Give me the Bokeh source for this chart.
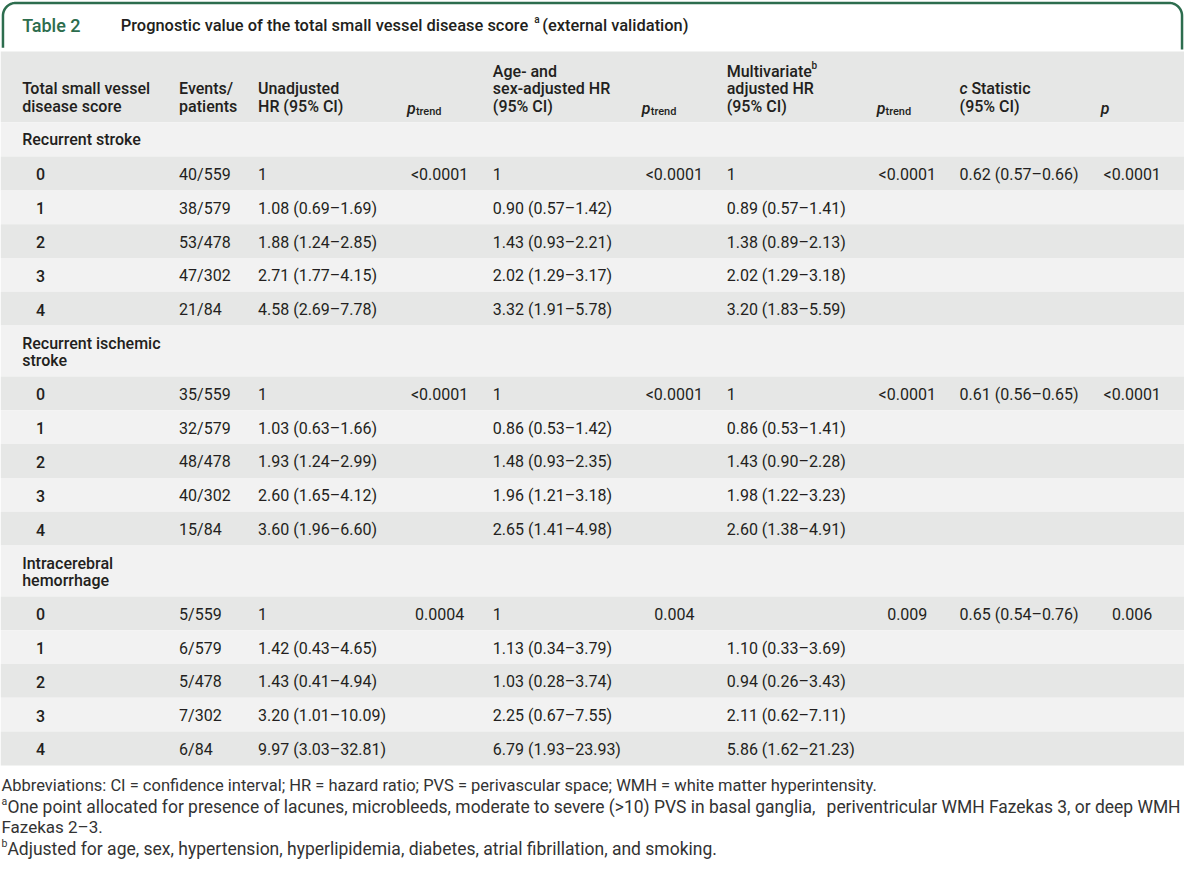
import numpy as np
from bokeh.plotting import figure
from bokeh.models import Range1d
from bokeh.embed import file_html
from bokeh.resources import INLINE
from bokeh.core.properties import value

# ---------------- data ----------------
table_label = "Table 2"
table_title = "Prognostic value of the total small vessel disease score"
table_title_tail = "(external validation)"

sections = [["Recurrent stroke"], ["Recurrent ischemic", "stroke"], ["Intracerebral", "hemorrhage"]]
scores = ["0", "1", "2", "3", "4"]

events = [
    ["40/559", "38/579", "53/478", "47/302", "21/84"],
    ["35/559", "32/579", "48/478", "40/302", "15/84"],
    ["5/559", "6/579", "5/478", "7/302", "6/84"],
]
unadjusted_hr = [
    ["1", "1.08 (0.69–1.69)", "1.88 (1.24–2.85)", "2.71 (1.77–4.15)", "4.58 (2.69–7.78)"],
    ["1", "1.03 (0.63–1.66)", "1.93 (1.24–2.99)", "2.60 (1.65–4.12)", "3.60 (1.96–6.60)"],
    ["1", "1.42 (0.43–4.65)", "1.43 (0.41–4.94)", "3.20 (1.01–10.09)", "9.97 (3.03–32.81)"],
]
age_sex_hr = [
    ["1", "0.90 (0.57–1.42)", "1.43 (0.93–2.21)", "2.02 (1.29–3.17)", "3.32 (1.91–5.78)"],
    ["1", "0.86 (0.53–1.42)", "1.48 (0.93–2.35)", "1.96 (1.21–3.18)", "2.65 (1.41–4.98)"],
    ["1", "1.13 (0.34–3.79)", "1.03 (0.28–3.74)", "2.25 (0.67–7.55)", "6.79 (1.93–23.93)"],
]
multivariate_hr = [
    ["1", "0.89 (0.57–1.41)", "1.38 (0.89–2.13)", "2.02 (1.29–3.18)", "3.20 (1.83–5.59)"],
    ["1", "0.86 (0.53–1.41)", "1.43 (0.90–2.28)", "1.98 (1.22–3.23)", "2.60 (1.38–4.91)"],
    ["", "1.10 (0.33–3.69)", "0.94 (0.26–3.43)", "2.11 (0.62–7.11)", "5.86 (1.62–21.23)"],
]
p_trend_unadj = ["<0.0001", "<0.0001", "0.0004"]
p_trend_age = ["<0.0001", "<0.0001", "0.004"]
p_trend_multi = ["<0.0001", "<0.0001", "0.009"]
c_statistic = ["0.62 (0.57–0.66)", "0.61 (0.56–0.65)", "0.65 (0.54–0.76)"]
p_cstat = ["<0.0001", "<0.0001", "0.006"]

# footnote lines: (superscript, left part, right part of a justified line)
footnotes = [
    ("", "Abbreviations: CI = confidence interval; HR = hazard ratio; PVS = perivascular space; WMH = white matter hyperintensity.", ""),
    ("a", "One point allocated for presence of lacunes, microbleeds, moderate to severe (>10) PVS in basal ganglia,", "periventricular WMH Fazekas 3, or deep WMH"),
    ("", "Fazekas 2–3.", ""),
    ("b", "Adjusted for age, sex, hypertension, hyperlipidemia, diabetes, atrial fibrillation, and smoking.", ""),
]

# ---------------- layout / style ----------------
FONT = value("Roboto")
BFONT = value("Roboto Medium")
TXT = "#231f20"
GREEN = "#2d6d4e"
DARK = "#e6e7e6"
LIGHT = "#f2f2f2"
FS = "16px"

W, H = 1184, 867
p = figure(width=W, height=H, x_range=Range1d(0, 1200), y_range=Range1d(883, 0),
           output_backend="svg", toolbar_location=None, min_border=0,
           x_axis_location=None, y_axis_location=None)
p.grid.grid_line_color = None
p.outline_line_color = None
p.background_fill_color = "white"
p.border_fill_color = "white"

# title box (rounded top corners)
r = 13
L, R, T = 2.5, 1197.5, 2.5
a1 = np.linspace(np.pi, 1.5 * np.pi, 20)
a2 = np.linspace(1.5 * np.pi, 2 * np.pi, 20)
bx = np.concatenate([[L], L + r + r * np.cos(a1), R - r + r * np.cos(a2), [R]])
by = np.concatenate([[48], T + r + r * np.sin(a1), T + r + r * np.sin(a2), [50]])
p.line(bx, by, line_color=GREEN, line_width=2.5)

p.text([22], [25], text=[table_label], text_font=BFONT, text_font_size="18px",
       text_color=GREEN, text_baseline="middle")
p.text([122], [25], text=[table_title], text_font=BFONT, text_font_size="16.4px",
       text_color=TXT, text_baseline="middle")
p.text([541], [19], text=["a"], text_font=BFONT, text_font_size="10px",
       text_color=TXT, text_baseline="middle")
p.text([549], [25], text=[table_title_tail], text_font=BFONT, text_font_size="16.4px",
       text_color=TXT, text_baseline="middle")

# bands
HEAD_TOP, HEAD_BOT = 52, 124
ROW_H = 34.4
band_t, band_b, band_c = [HEAD_TOP], [HEAD_BOT], [DARK]

col_x = dict(score=36, events=181, unadj=261, age=499, multi=736, cstat=972)
pcol_x = [445, 683, 919, 1147]

lx, ly, lt = [], [], []          # left aligned regular cells
cx, cy, ct = [], [], []          # centred p-values
bxs, bys, bts = [], [], []       # medium-weight labels

y = HEAD_BOT
for s, sec in enumerate(sections):
    sec_h = 35 if len(sec) == 1 else 52
    band_t.append(y); band_b.append(y + sec_h); band_c.append(LIGHT)
    for k, line in enumerate(sec):
        bxs.append(22); bys.append(y + 18 + 17.5 * k); bts.append(line)
    y += sec_h
    for i in range(len(scores)):
        yt, yb = y + ROW_H * i, y + ROW_H * (i + 1)
        band_t.append(yt); band_b.append(yb)
        band_c.append(DARK if i % 2 == 0 else LIGHT)
        yc = (yt + yb) / 2 + 1
        bxs.append(col_x["score"]); bys.append(yc); bts.append(scores[i])
        for key, arr in (("events", events), ("unadj", unadjusted_hr), ("age", age_sex_hr), ("multi", multivariate_hr)):
            lx.append(col_x[key]); ly.append(yc); lt.append(arr[s][i])
        if i == 0:
            for j, arr in enumerate((p_trend_unadj, p_trend_age, p_trend_multi)):
                cx.append(pcol_x[j]); cy.append(yc); ct.append(arr[s])
            lx.append(col_x["cstat"]); ly.append(yc); lt.append(c_statistic[s])
            cx.append(pcol_x[3]); cy.append(yc); ct.append(p_cstat[s])
    y += ROW_H * len(scores)

n = len(band_t)
p.quad(left=[0] * n, right=[1200] * n, top=band_t, bottom=band_b, fill_color=band_c, line_color=None)

p.text(lx, ly, text=lt, text_font=FONT, text_font_size=FS, text_color=TXT,
       text_baseline="middle", text_align="left")
p.text(cx, cy, text=ct, text_font=FONT, text_font_size=FS, text_color=TXT,
       text_baseline="middle", text_align="center")
p.text(bxs, bys, text=bts, text_font=BFONT, text_font_size=FS, text_color=TXT,
       text_baseline="middle", text_align="left")

# header
hx, hy, ht = [], [], []
head_cols = [
    (22, ["Total small vessel", "disease score"]),
    (181, ["Events/", "patients"]),
    (261, ["Unadjusted", "HR (95% CI)"]),
    (499, ["Age- and", "sex-adjusted HR", "(95% CI)"]),
    (736, ["Multivariate", "adjusted HR", "(95% CI)"]),
    (972, ["Statistic", "(95% CI)"]),
]
for x0, lines in head_cols:
    nl = len(lines)
    for k, line in enumerate(lines):
        xx = x0 + (12 if line == "Statistic" else 0)
        hx.append(xx); hy.append(107.5 - 17.5 * (nl - 1 - k)); ht.append(line)
p.text(hx, hy, text=ht, text_font=BFONT, text_font_size=FS, text_color=TXT,
       text_baseline="middle")
# italic c, p
p.text([972], [90], text=["c"], text_font=BFONT, text_font_size=FS, text_color=TXT,
       text_font_style="italic", text_baseline="middle")
ptx = [412, 650, 888]
p.text(ptx + [1115], [110] * 4, text=["p"] * 4, text_font=BFONT, text_font_size=FS, text_color=TXT,
       text_font_style="italic", text_baseline="middle")
p.text([x + 9 for x in ptx], [113] * 3, text=["trend"] * 3, text_font=BFONT, text_font_size="11px",
       text_color=TXT, text_baseline="middle")
p.text([822], [66], text=["b"], text_font=BFONT, text_font_size="10px", text_color=TXT,
       text_baseline="middle")

# footnotes
fy = [799, 821, 842, 864]
fsizes = ["16.5px", "17.45px", "17px", "17.5px"]
for (sup, left, right), yy, fsz in zip(footnotes, fy, fsizes):
    x0 = 1
    if sup:
        p.text([1], [yy - 5], text=[sup], text_font=FONT, text_font_size="10.5px",
               text_color="#333333", text_baseline="middle")
        x0 = 7
    p.text([x0], [yy], text=[left], text_font=FONT, text_font_size=fsz, text_color="#333333",
           text_baseline="middle")
    if right:
        p.text([1196], [yy], text=[right], text_font=FONT, text_font_size=fsz, text_color="#333333",
               text_baseline="middle", text_align="right")

open("out.html", "w").write(file_html(p, INLINE))
